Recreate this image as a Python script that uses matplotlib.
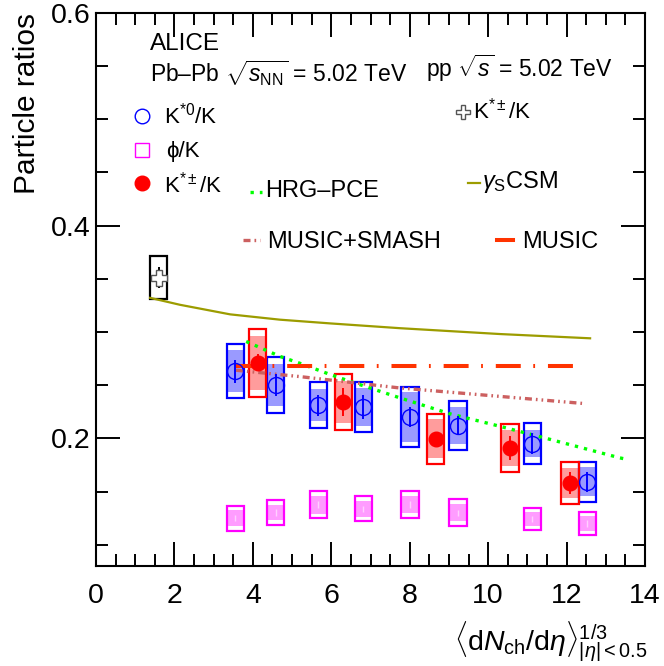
import matplotlib
matplotlib.use("Agg")
import matplotlib.pyplot as plt
from matplotlib.patches import Rectangle
from matplotlib.ticker import MultipleLocator, FixedLocator

plt.rcParams['font.family'] = ['Liberation Sans', 'DejaVu Sans']
plt.rcParams['mathtext.fontset'] = 'custom'
plt.rcParams['mathtext.rm'] = 'Liberation Sans'
plt.rcParams['mathtext.it'] = 'Liberation Sans:italic'
plt.rcParams['mathtext.bf'] = 'Liberation Sans:bold'

# Pb-Pb K*0/K
kst0_x = [3.55, 4.58, 5.67, 6.82, 8.01, 9.23, 11.13, 12.53]
kst0_y = [0.263, 0.250, 0.231, 0.2295, 0.220, 0.212, 0.195, 0.159]
kst0_stat = [0.011, 0.010, 0.010, 0.011, 0.009, 0.009, 0.010, 0.009]
kst0_sys = [0.0255, 0.0263, 0.0216, 0.0235, 0.0285, 0.0227, 0.0196, 0.0192]
kst0_sys_unc = [0.0196, 0.020, 0.015, 0.018, 0.0235, 0.017, 0.013, 0.0136]

# Pb-Pb phi/K (same multiplicity classes as K*0)
phi_y = [0.125, 0.1304, 0.1377, 0.1338, 0.1377, 0.130, 0.124, 0.120]
phi_stat = [0.003, 0.003, 0.003, 0.003, 0.003, 0.003, 0.003, 0.003]
phi_sys = [0.0117, 0.0115, 0.0128, 0.0117, 0.0125, 0.0125, 0.0106, 0.0105]
phi_sys_unc = [0.0072, 0.0072, 0.0085, 0.0075, 0.0082, 0.0080, 0.0068, 0.0068]

# Pb-Pb K*+-/K
kstpm_x = [4.12, 6.31, 8.66, 10.56, 12.09]
kstpm_y = [0.2708, 0.234, 0.1997, 0.191, 0.158]
kstpm_stat = [0.008, 0.013, 0.006, 0.011, 0.010]
kstpm_sys = [0.0324, 0.026, 0.0235, 0.0228, 0.0197]
kstpm_sys_unc = [0.0258, 0.020, 0.018, 0.017, 0.014]

# pp K*+-/K
pp_x = [1.60]
pp_y = [0.351]
pp_stat = [0.010]
pp_sys = [0.0204]

# models
csm_x = [1.38, 2.14, 3.42, 4.69, 5.97, 7.75, 10.3, 12.6]
csm_y = [0.332, 0.3255, 0.3165, 0.3115, 0.3080, 0.3035, 0.2980, 0.294]
hrg_x = [3.83, 4.69, 5.2, 5.97, 6.48, 7.75, 9.03, 10.3, 11.58, 13.36, 13.57]
hrg_y = [0.291, 0.277, 0.2705, 0.260, 0.2535, 0.238, 0.223, 0.2113, 0.1990, 0.1816, 0.180]
smash_x = [3.57, 5.2, 7.75, 10.3, 12.47]
smash_y = [0.264, 0.258, 0.2473, 0.2394, 0.2326]
music_x = [3.55, 12.39]
music_y = [0.268, 0.268]

BLUE = '#0000ff'
RED = '#ff0000'
MAG = '#ff00ff'
OLIVE = '#9c9c00'
GREEN = '#00ff00'
SMASH = '#cc6060'
MUSIC = '#ff3300'

HW = 0.22  # half width of systematic boxes

fig = plt.figure(figsize=(6.64, 6.66), dpi=100)
ax = fig.add_axes([96 / 664, 1 - 566 / 666, 549 / 664, 553.3 / 666])


def boxes(xs, ys, tot, unc, edge, fill):
    for x, y, t, u in zip(xs, ys, tot, unc):
        if u is not None:
            ax.add_patch(Rectangle((x - HW, y - u), 2 * HW, 2 * u, facecolor=fill,
                                   edgecolor='none', zorder=1))
        ax.add_patch(Rectangle((x - HW, y - t), 2 * HW, 2 * t, facecolor='none',
                               edgecolor=edge, lw=1.6, zorder=1.5))


boxes(kst0_x, kst0_y, kst0_sys, kst0_sys_unc, BLUE, '#9a9aff')
boxes(kst0_x, phi_y, phi_sys, phi_sys_unc, MAG, '#ff9cff')
boxes(kstpm_x, kstpm_y, kstpm_sys, kstpm_sys_unc, RED, '#ff9c9c')
boxes(pp_x, pp_y, pp_sys, [None], 'black', 'none')

# model curves
ax.plot(csm_x, csm_y, color=OLIVE, lw=1.6, zorder=2)
ax.plot(hrg_x, hrg_y, color=GREEN, lw=2.4, ls=(0, (1, 1.8)), zorder=2)
ax.plot(smash_x, smash_y, color=SMASH, lw=2.4,
        ls=(0, (2.1, 1.2, 0.5, 1.2, 0.5, 1.2)), zorder=2)
ax.plot(music_x, music_y, color=MUSIC, lw=2.9, ls=(0, (6.2, 3.1, 0.45, 3.2)), zorder=2)

# data points
ax.errorbar(kst0_x, kst0_y, yerr=kst0_stat, fmt='o', ms=11.5, mfc='none', mec=BLUE,
            mew=1.0, ecolor=BLUE, elinewidth=1.4, capsize=0, zorder=3)
ax.errorbar(kst0_x, phi_y, yerr=phi_stat, fmt='none', ecolor='#ffd0ff', elinewidth=1.0,
            capsize=0, zorder=3)
ax.errorbar(kstpm_x, kstpm_y, yerr=kstpm_stat, fmt='o', ms=10.5, mfc=RED, mec=RED,
            ecolor=RED, elinewidth=1.4, capsize=0, zorder=3)
ax.errorbar(pp_x, pp_y, yerr=pp_stat, fmt='P', ms=11, mfc='white', mec='#555555',
            mew=1.0, ecolor='black', elinewidth=1.4, capsize=0, zorder=3)

ax.set_xlim(0, 14)
ax.set_ylim(0.08, 0.6)
ax.xaxis.set_major_locator(MultipleLocator(2))
ax.xaxis.set_minor_locator(MultipleLocator(0.5))
ax.yaxis.set_major_locator(FixedLocator([0.2, 0.4, 0.6]))
ax.yaxis.set_minor_locator(MultipleLocator(0.05))
ax.set_yticklabels(['0.2', '0.4', '0.6'])
ax.tick_params(which='both', direction='in', top=True, right=True, width=1.4,
               labelsize=20.5)
ax.tick_params(which='major', length=17)
ax.tick_params(which='minor', length=8.5)
ax.tick_params(axis='x', pad=12)
ax.tick_params(axis='y', pad=4)
for s in ax.spines.values():
    s.set_linewidth(1.5)

fig.text(27 / 664, 1 - 13 / 666, 'Particle ratios', rotation=90, ha='center',
         va='top', fontsize=21.5)
fig.text(648 / 664, 1 - 651 / 666,
         r'$\langle\mathrm{d}N_{\mathrm{ch}}/\mathrm{d}\eta\rangle^{1/3}_{|\eta|<0.5}$',
         ha='right', va='baseline', fontsize=20.5)


def P(px, py):
    return (px - 96) / 549, (566 - py) / 553.3


def label(px, py, s, size=16.5):
    ax.text(*P(px, py), s, transform=ax.transAxes, ha='left', va='baseline',
            fontsize=size)


label(150, 50, 'ALICE', 17.5)
label(150, 82, r'Pb–Pb $\sqrt{s_{\mathrm{NN}}}$ = 5.02 TeV', 16.5)
label(426, 77, r'pp $\sqrt{s}$ = 5.02 TeV', 16.5)

ax.plot(*P(463, 111.7), 'P', ms=9.5, mfc='white', mec='#555555', mew=1.0,
        transform=ax.transAxes, clip_on=False)
label(473, 118, r'K$^{*\pm}$/K', 16)

ax.plot(*P(141.7, 116), 'o', ms=10.5, mfc='none', mec=BLUE, mew=1.0,
        transform=ax.transAxes)
label(164, 123, r'K$^{*0}$/K', 16)
ax.plot(*P(141.7, 150), 's', ms=10, mfc='none', mec=MAG, mew=1.0,
        transform=ax.transAxes)
label(166, 157, '\u03d5/K', 16)
ax.plot(*P(141.7, 183), 'o', ms=10.5, mfc=RED, mec=RED, transform=ax.transAxes)
label(164, 192, r'K$^{*\pm}$/K', 16)

x0, y0 = P(250, 191.7)
x1, _ = P(262, 191.7)
ax.plot([x0, x1], [y0, y0], color=GREEN, lw=2.4, ls=(0, (1, 1.8)),
        transform=ax.transAxes)
label(265, 197, 'HRG–PCE', 17)

x0, y0 = P(468, 183)
x1, _ = P(480, 183)
ax.plot([x0, x1], [y0, y0], color=OLIVE, lw=1.6, transform=ax.transAxes)
label(482, 188, r'$\gamma_{\mathrm{S}}$CSM', 17)

x0, y0 = P(243, 240)
x1, _ = P(260, 240)
ax.plot([x0, x1], [y0, y0], color=SMASH, lw=2.4,
        ls=(0, (2.1, 1.2, 0.5, 1.2, 0.5, 1.2)), transform=ax.transAxes)
label(267, 248, 'MUSIC+SMASH', 17)

x0, y0 = P(497, 240)
x1, _ = P(513, 240)
ax.plot([x0, x1], [y0, y0], color=MUSIC, lw=2.9, transform=ax.transAxes)
label(522, 248, 'MUSIC', 17)

fig.savefig('out.png', dpi=100)
